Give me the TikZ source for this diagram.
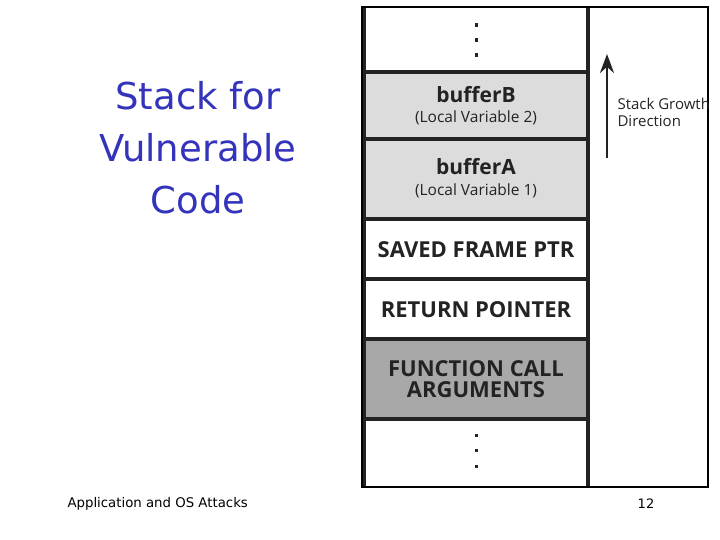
\documentclass[tikz,border=0pt]{standalone}
\usepackage{fontspec}
\setmainfont{Open Sans}
\newfontfamily\slidefont{DejaVu Sans}
\usetikzlibrary{arrows.meta}
\definecolor{titleblue}{RGB}{51,51,187}
\definecolor{lightcell}{RGB}{220,220,220}
\definecolor{darkcell}{RGB}{168,168,168}
\definecolor{inkgray}{RGB}{35,35,35}
\tikzset{
  bold label/.style={font=\fontsize{21}{22}\selectfont\bfseries,text=inkgray},
  caps label/.style={font=\fontsize{22}{21}\selectfont\bfseries,text=inkgray},
  sub label/.style={font=\fontsize{15.5}{18}\selectfont,text=inkgray},
  divider/.style={line width=4pt,inkgray},
}
\begin{document}
\begin{tikzpicture}[x=1pt,y=-1pt,>=Stealth]
\useasboundingbox (0,0) rectangle (720,540);
% title and footer
\node[font=\slidefont\fontsize{37}{52}\selectfont,text=titleblue,align=center] (title) at (198,148) {Stack for\\Vulnerable\\Code};
\node[font=\slidefont\fontsize{13.3}{14}\selectfont,anchor=west] (foot) at (64,504) {Application and OS Attacks};
\node[font=\slidefont\fontsize{13}{14}\selectfont] (page) at (646,504) {12};
% stack cells
\fill[lightcell] (364,72) rectangle (588,219);
\fill[darkcell] (364,339) rectangle (588,419);
\foreach \y in {72,139,219,279,339,419}
  \draw[divider] (364,\y) -- (588,\y);
\draw[divider] (364,7) -- (364,487);
\draw[divider] (588,7) -- (588,487);
\draw[line width=1.2pt] (362,7) rectangle (708,487);
% dots
\foreach \y in {25,40,55,435,450,466}
  \fill[inkgray] (474.5,\y-1.5) rectangle +(3.5,3.5);
% labels
\node[bold label] (bufB) at (476,95) {bufferB};
\node[sub label] (varB) at (476,118) {(Local Variable 2)};
\node[bold label] (bufA) at (476,167) {bufferA};
\node[sub label] (varA) at (476,191) {(Local Variable 1)};
\node[caps label] (sfp) at (476,250) {SAVED FRAME PTR};
\node[caps label] (ret) at (476,310) {RETURN POINTER};
\node[caps label,align=center] (args) at (476,379) {FUNCTION CALL\\ARGUMENTS};
% growth direction
\coordinate (gbot) at (607,158);
\coordinate (gtop) at (607,54);
\draw[-{Stealth[length=19pt,width=14pt]},line width=2.6pt,inkgray] (gbot) -- (gtop);
\begin{scope}
\clip (600,7) rectangle (708,487);
\node[font=\fontsize{15}{17}\selectfont,text=inkgray,align=left,anchor=west] (grow) at (614,112) {Stack Growth\\Direction};
\end{scope}
\end{tikzpicture}
\end{document}
